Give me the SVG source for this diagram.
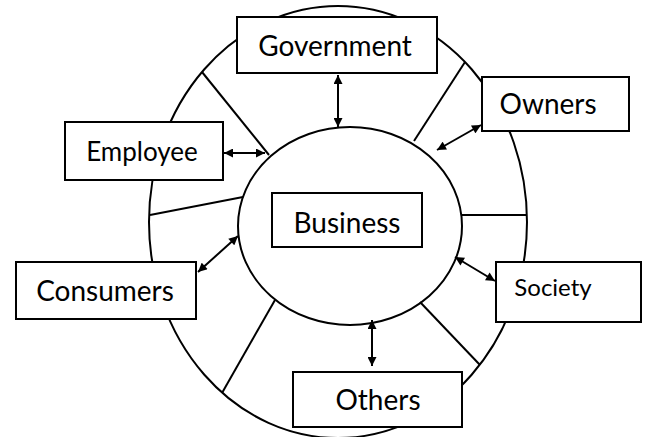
<svg xmlns="http://www.w3.org/2000/svg" width="648" height="437" viewBox="0 0 648 437">
<style>
.ring{fill:none;stroke:#000;stroke-width:2}
.div{stroke:#000;stroke-width:2;fill:none}
.box{fill:#fff;stroke:#000;stroke-width:2}
.lbl{font-family:Lato,"Liberation Sans",sans-serif;font-size:28px;fill:#000;text-anchor:middle}
.arr{stroke:#000;stroke-width:2;fill:none;marker-start:url(#ah);marker-end:url(#ah)}
</style>
<defs>
<marker id="ah" viewBox="0 0 10 10" refX="10" refY="5" markerWidth="10" markerHeight="9" markerUnits="userSpaceOnUse" orient="auto-start-reverse">
<path d="M0,0 L10,5 L0,10 z" fill="#000"/>
</marker>
</defs>
<rect width="648" height="437" fill="#fff"/>
<g id="rings">
<ellipse class="ring" cx="338" cy="222" rx="189" ry="216"/>
<ellipse class="ring" cx="350" cy="226" rx="112" ry="99" fill="#fff"/>
</g>
<g id="connectors">
<line class="div" x1="202" y1="72" x2="269" y2="155"/>
<line class="div" x1="150" y1="215" x2="243" y2="197"/>
<line class="div" x1="275" y1="300" x2="222" y2="393"/>
<line class="div" x1="420" y1="302" x2="480" y2="365"/>
<line class="div" x1="461" y1="215" x2="527" y2="215"/>
<line class="div" x1="465" y1="62" x2="414" y2="141"/>
<line class="arr" x1="338" y1="75" x2="338" y2="127"/>
<line class="arr" x1="481" y1="125" x2="437" y2="150"/>
<line class="arr" x1="224" y1="153" x2="265" y2="153"/>
<line class="arr" x1="198" y1="272" x2="238" y2="236"/>
<line class="arr" x1="455" y1="257" x2="495" y2="281"/>
<line class="arr" x1="372" y1="320" x2="372" y2="366"/>
</g>
<g id="business">
<rect class="box" x="272" y="193" width="150" height="54"/>
<text class="lbl" x="347" y="233">Business</text>
</g>
<g id="government">
<rect class="box" x="237" y="17" width="200" height="56"/>
<text class="lbl" x="335" y="56">Government</text>
</g>
<g id="owners">
<rect class="box" x="482" y="77" width="147" height="54"/>
<text class="lbl" x="548" y="114">Owners</text>
</g>
<g id="employee">
<rect class="box" x="65" y="122" width="158" height="58"/>
<text class="lbl" x="142" y="161" style="font-size:26px">Employee</text>
</g>
<g id="consumers">
<rect class="box" x="16" y="262" width="180" height="57"/>
<text class="lbl" x="105" y="301">Consumers</text>
</g>
<g id="society">
<rect class="box" x="496" y="262" width="145" height="60"/>
<text class="lbl" x="553" y="296" style="font-size:24px">Society</text>
</g>
<g id="others">
<rect class="box" x="293" y="372" width="169" height="55"/>
<text class="lbl" x="378" y="410">Others</text>
</g>
</svg>
